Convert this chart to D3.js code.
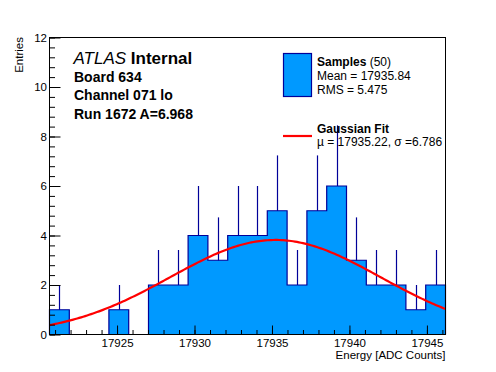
<!DOCTYPE html>
<html><head><meta charset="utf-8">
<script src="https://cdn.jsdelivr.net/npm/d3@7"></script>
<style>
body{margin:0;background:#fff}
svg{display:block}
text{font-family:"Liberation Sans",Arial,Helvetica,sans-serif;fill:#000}
</style>
</head><body>
<svg id="chart" width="496" height="372"></svg>
<script>
// ---- data ----
const binCounts = [1,0,0,1,0,2,2,4,3,4,4,5,2,5,6,3,2,2,1,2];
const xRange = [17920.64, 17946.2];
const xMajorTicks = [17925,17930,17935,17940,17945];
const xMinorTicks = d3.range(17921, 17947, 1);
const yMajorTicks = [0,2,4,6,8,10,12];
const yMinorTicks = d3.range(0, 12.01, 0.4);
const fitMu = 17935.22;
const fitSigma = 6.786;
const fitAmp = 3.82;
const headerLines = ["Board 634", "Channel 071 lo", "Run 1672 A=6.968"];
const xTitle = "Energy [ADC Counts]";
const yTitle = "Entries";

// ---- layout ----
const L = 49.5, R = 445.5, T = 37.5, B = 334.5;
const fillCol = "#0099ff", lineCol = "#000099";
const svg = d3.select("#chart");
const x = d3.scaleLinear().domain(xRange).range([L, R]);
const y = d3.scaleLinear().domain([0, 12]).range([B, T]);
const nb = binCounts.length;
const bw = (xRange[1] - xRange[0]) / nb;
const bins = binCounts.map((n, i) => ({n, x0: xRange[0] + i * bw, x1: xRange[0] + (i + 1) * bw}));

// error bars
svg.append("g").selectAll("line").data(bins.filter(d => d.n > 0)).join("line")
  .attr("x1", d => Math.round(x((d.x0 + d.x1) / 2)) + 0.5)
  .attr("x2", d => Math.round(x((d.x0 + d.x1) / 2)) + 0.5)
  .attr("y1", d => y(d.n - Math.sqrt(d.n)))
  .attr("y2", d => y(d.n + Math.sqrt(d.n)))
  .attr("stroke", lineCol).attr("stroke-width", 1.2);

// histogram
const pts = [[xRange[0], 0]];
bins.forEach(d => { pts.push([d.x0, d.n]); pts.push([d.x1, d.n]); });
pts.push([xRange[1], 0]);
const line = d3.line().x(d => x(d[0])).y(d => y(d[1]));
svg.append("path").attr("d", line(pts) + "Z").attr("fill", fillCol).attr("stroke", "none");
svg.append("path").attr("d", line(pts)).attr("fill", "none").attr("stroke", lineCol).attr("stroke-width", 1.2);

// gaussian fit
const gx = d3.range(0, 201).map(i => xRange[0] + (xRange[1] - xRange[0]) * i / 200);
const gauss = v => fitAmp * Math.exp(-0.5 * Math.pow((v - fitMu) / fitSigma, 2));
svg.append("path").attr("d", d3.line().x(v => x(v)).y(v => y(gauss(v)))(gx))
  .attr("fill", "none").attr("stroke", "#ff0000").attr("stroke-width", 2.2);

// axes
const fs = "11.5px";
const gxMin = svg.append("g").attr("transform", `translate(0,${B})`)
  .call(d3.axisBottom(x).tickValues(xMinorTicks).tickSize(-4.5).tickFormat(""));
const gxMaj = svg.append("g").attr("transform", `translate(0,${B})`)
  .call(d3.axisBottom(x).tickValues(xMajorTicks).tickSize(-9).tickPadding(4).tickFormat(d3.format("d")));
const gyMin = svg.append("g").attr("transform", `translate(${L},0)`)
  .call(d3.axisLeft(y).tickValues(yMinorTicks).tickSize(-5.5).tickFormat(""));
const gyMaj = svg.append("g").attr("transform", `translate(${L},0)`)
  .call(d3.axisLeft(y).tickValues(yMajorTicks).tickSize(-11).tickPadding(3).tickFormat(d3.format("d")));
[gxMin, gxMaj, gyMin, gyMaj].forEach(g => {
  g.select(".domain").remove();
  g.selectAll("line").attr("stroke", "#000");
  g.selectAll("text").style("font-size", fs).attr("font-family", null);
});
gxMaj.selectAll("text").attr("y", 4).attr("dy", "0.71em");
gyMaj.selectAll("text").attr("x", -2.5);

// frame
svg.append("rect").attr("x", L).attr("y", T).attr("width", R - L).attr("height", B - T)
  .attr("fill", "none").attr("stroke", "#000").attr("stroke-width", 1);

// axis titles
svg.append("text").attr("x", R).attr("y", 358.5).attr("text-anchor", "end")
  .style("font-size", fs).text(xTitle);
svg.append("text").attr("transform", "translate(23,37) rotate(-90)").attr("text-anchor", "end")
  .style("font-size", fs).text(yTitle);

// ATLAS label
const at = svg.append("text").attr("x", 73.5).attr("y", 63.5).style("font-size", "17px");
at.append("tspan").style("font-style", "italic").text("ATLAS");
at.append("tspan").style("font-weight", "bold").text(" Internal");
svg.append("g").selectAll("text").data(headerLines).join("text")
  .attr("x", 74).attr("y", (d, i) => 81.5 + i * 18.8)
  .style("font-size", "14px").style("font-weight", "bold").text(d => d);

// legend
svg.append("rect").attr("x", 283.5).attr("y", 53.5).attr("width", 28).attr("height", 43)
  .attr("fill", fillCol).attr("stroke", lineCol).attr("stroke-width", 1.2);
const s1 = svg.append("text").attr("x", 317).attr("y", 65.5).style("font-size", "12px");
s1.append("tspan").style("font-weight", "bold").text("Samples");
s1.append("tspan").text(" (50)");
svg.append("text").attr("x", 317).attr("y", 79.5).style("font-size", "12px").text("Mean = 17935.84");
svg.append("text").attr("x", 317).attr("y", 93.5).style("font-size", "12px").text("RMS = 5.475");
svg.append("line").attr("x1", 283).attr("x2", 312).attr("y1", 136).attr("y2", 136)
  .attr("stroke", "#ff0000").attr("stroke-width", 2.2);
svg.append("text").attr("x", 317).attr("y", 132.5).style("font-size", "12px").style("font-weight", "bold").text("Gaussian Fit");
svg.append("text").attr("x", 317).attr("y", 146).style("font-size", "12px").text("\u00b5 = 17935.22, \u03c3 =6.786");
</script>
</body></html>
